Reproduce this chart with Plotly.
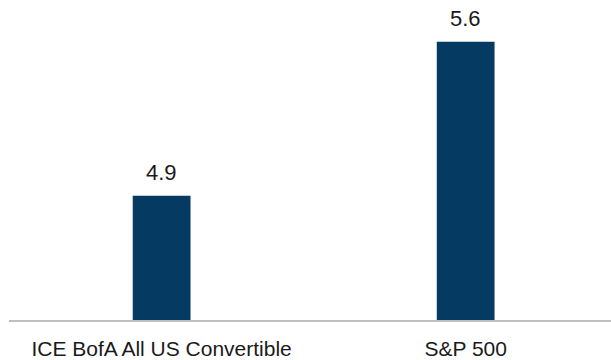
import plotly.graph_objects as go

categories = ["ICE BofA All US Convertible", "S&P 500"]
values = [4.9, 5.6]
value_labels = ["4.9", "5.6"]

positions = list(range(len(categories)))
bar_color = "#053A63"
font_family = "Liberation Sans, Arial, sans-serif"

fig = go.Figure()
fig.add_trace(go.Bar(
    x=positions,
    y=values,
    width=0.19,
    marker=dict(color=bar_color, line=dict(width=0)),
    hoverinfo="skip",
))

for xp, v, lab in zip(positions, values, value_labels):
    fig.add_annotation(
        x=xp, y=v, text=lab, showarrow=False,
        yanchor="bottom", yshift=9,
        font=dict(family=font_family, size=22, color="#1a1a1a"),
    )

fig.update_layout(
    width=611, height=360,
    margin=dict(l=9, r=0, t=0, b=40),
    paper_bgcolor="white", plot_bgcolor="white",
    showlegend=False,
    font=dict(family=font_family, size=21, color="#1a1a1a"),
    xaxis=dict(
        range=[-0.502, 1.478],
        tickvals=positions, ticktext=categories,
        showgrid=False, zeroline=False,
        showline=True, linecolor="#BFBFBF", linewidth=2,
        ticks="", ticklabelstandoff=9,
        tickfont=dict(size=21, family=font_family, color="#1a1a1a"),
        fixedrange=True,
    ),
    yaxis=dict(
        range=[4.336, 5.79],
        visible=False, showgrid=False, zeroline=False,
        fixedrange=True,
    ),
)

fig.write_html("out.html", config={"displayModeBar": False})
